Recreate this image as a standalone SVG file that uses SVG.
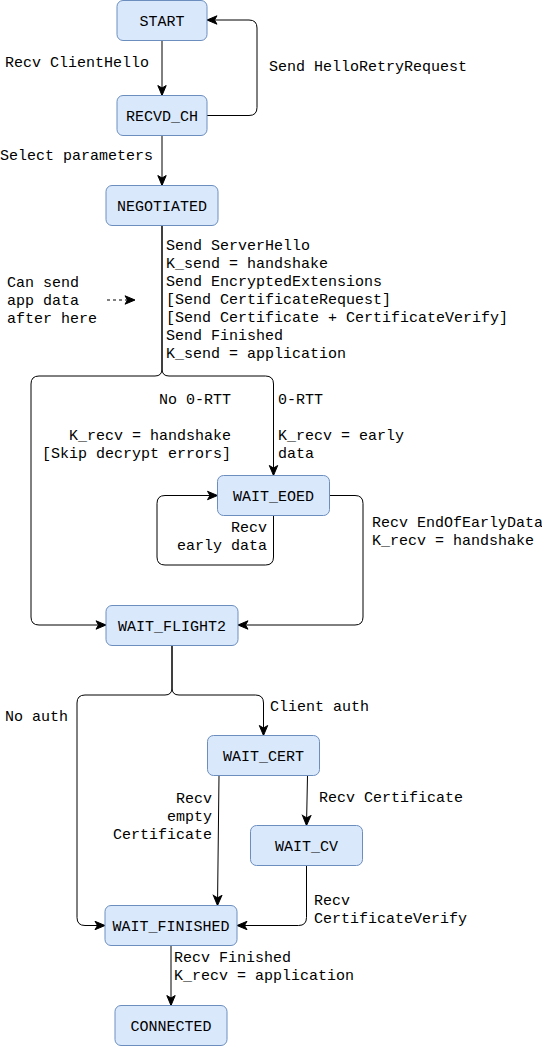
<svg xmlns="http://www.w3.org/2000/svg" width="542" height="1046" viewBox="0 0 542 1046">
<style>
.n rect{fill:#dae8fc;stroke:#6c8ebf;stroke-width:1}
text{font-family:"Liberation Mono","DejaVu Sans Mono",monospace;font-size:15px;fill:#000}
.n text{text-anchor:middle}
.r{text-anchor:end}
#edges path{fill:none;stroke:#000;stroke-width:1}
</style>
<defs>
<marker id="a" markerUnits="userSpaceOnUse" markerWidth="12" markerHeight="12" viewBox="0 0 12 12" refX="11" refY="6" orient="auto">
<path d="M1,1.8 L11,6 L1,10.2 L3.5,6 Z" fill="#000" stroke="#000" stroke-width="1"/>
</marker>
</defs>
<rect width="542" height="1046" fill="#fff"/>
<g id="edges">
<path d="M162,40.5 V95.5" marker-end="url(#a)"/>
<path d="M207,115.5 H249 Q257,115.5 257,107.5 V28 Q257,20 249,20 H207" marker-end="url(#a)"/>
<path d="M162,135.5 V185.5" marker-end="url(#a)"/>
<path d="M162,225.5 V369 Q162,376 155,376 H39 Q31,376 31,384 V617 Q31,625 39,625 H106" marker-end="url(#a)"/>
<path d="M162,225.5 V369 Q162,376 169,376 H265.5 Q273.5,376 273.5,384 V475.5" marker-end="url(#a)"/>
<path d="M273.5,515.5 V557 Q273.5,565 265.5,565 H165 Q157,565 157,557 V503.5 Q157,495.5 165,495.5 H217.5" marker-end="url(#a)"/>
<path d="M329.5,495.5 H355 Q363,495.5 363,503.5 V617 Q363,625 355,625 H238" marker-end="url(#a)"/>
<path d="M172,645.5 V688 Q172,695 165,695 H85 Q77,695 77,703 V917.5 Q77,925.5 85,925.5 H105" marker-end="url(#a)"/>
<path d="M172,645.5 V688 Q172,695 179,695 H255.5 Q263.5,695 263.5,703 V735.5" marker-end="url(#a)"/>
<path d="M307.5,775.5 L306.5,825.5" marker-end="url(#a)"/>
<path d="M219,775.5 L217.5,905.5" marker-end="url(#a)"/>
<path d="M306.5,865.5 V917.5 Q306.5,925.5 298.5,925.5 H237" marker-end="url(#a)"/>
<path d="M171,945.5 V1005.5" marker-end="url(#a)"/>
<path d="M107,300 H135" stroke-dasharray="3 3" marker-end="url(#a)"/>
</g>
<g id="start" class="n"><rect x="117" y="0.5" width="90" height="40" rx="6"/><text x="162" y="25.5">START</text></g>
<g id="recvd_ch" class="n"><rect x="117" y="95.5" width="90" height="40" rx="6"/><text x="162" y="120.5">RECVD_CH</text></g>
<g id="negotiated" class="n"><rect x="106" y="185.5" width="112" height="40" rx="6"/><text x="162" y="210.5">NEGOTIATED</text></g>
<g id="wait_eoed" class="n"><rect x="217.5" y="475.5" width="112" height="40" rx="6"/><text x="273.5" y="500.5">WAIT_EOED</text></g>
<g id="wait_flight2" class="n"><rect x="106" y="605.5" width="132" height="40" rx="6"/><text x="172" y="630.5">WAIT_FLIGHT2</text></g>
<g id="wait_cert" class="n"><rect x="207.5" y="735.5" width="112" height="40" rx="6"/><text x="263.5" y="760.5">WAIT_CERT</text></g>
<g id="wait_cv" class="n"><rect x="250.5" y="825.5" width="112" height="40" rx="6"/><text x="306.5" y="850.5">WAIT_CV</text></g>
<g id="wait_finished" class="n"><rect x="105" y="905.5" width="132" height="40" rx="6"/><text x="171" y="930.5">WAIT_FINISHED</text></g>
<g id="connected" class="n"><rect x="115" y="1005.5" width="112" height="40" rx="6"/><text x="171" y="1030.5">CONNECTED</text></g>
<g id="labels">
<text x="5" y="67">Recv ClientHello</text>
<text x="269" y="71">Send HelloRetryRequest</text>
<text x="0" y="160">Select parameters</text>
<text x="166" y="250">Send ServerHello</text>
<text x="166" y="268">K_send = handshake</text>
<text x="166" y="286">Send EncryptedExtensions</text>
<text x="166" y="304">[Send CertificateRequest]</text>
<text x="166" y="322">[Send Certificate + CertificateVerify]</text>
<text x="166" y="340">Send Finished</text>
<text x="166" y="358">K_send = application</text>
<text x="7" y="287">Can send</text>
<text x="7" y="305">app data</text>
<text x="7" y="323">after here</text>
<text class="r" x="231" y="404">No 0-RTT</text>
<text x="278" y="404">0-RTT</text>
<text class="r" x="231" y="440">K_recv = handshake</text>
<text class="r" x="231" y="458">[Skip decrypt errors]</text>
<text x="278" y="440">K_recv = early</text>
<text x="278" y="458">data</text>
<text class="r" x="267" y="532">Recv</text>
<text class="r" x="267" y="550">early data</text>
<text x="372" y="527">Recv EndOfEarlyData</text>
<text x="372" y="545">K_recv = handshake</text>
<text x="5" y="721">No auth</text>
<text x="270" y="711">Client auth</text>
<text x="319" y="802">Recv Certificate</text>
<text class="r" x="212" y="803">Recv</text>
<text class="r" x="212" y="821">empty</text>
<text class="r" x="212" y="839">Certificate</text>
<text x="314" y="905">Recv</text>
<text x="314" y="923">CertificateVerify</text>
<text x="174" y="962">Recv Finished</text>
<text x="174" y="980">K_recv = application</text>
</g>
</svg>
